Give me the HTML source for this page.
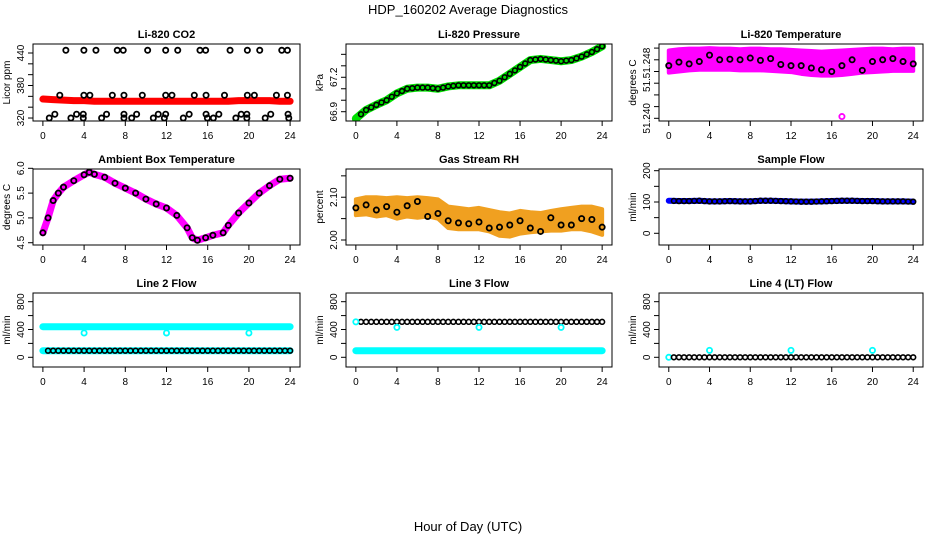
<!DOCTYPE html>
<html><head><meta charset="utf-8"><style>
body{margin:0;background:#fff}
svg{display:block;font-family:"Liberation Sans",sans-serif}
</style></head><body>
<svg id="c" width="936" height="540" viewBox="0 0 936 540" xmlns="http://www.w3.org/2000/svg">
<rect width="936" height="540" fill="#fff"/>
<text x="468" y="14" text-anchor="middle" font-size="13">HDP_160202  Average Diagnostics</text>
<text x="468" y="531" text-anchor="middle" font-size="13">Hour of Day (UTC)</text>
</svg>
<script>
const hours=[0,1,2,3,4,5,6,7,8,9,10,11,12,13,14,15,16,17,18,19,20,21,22,23,24];
// CO2
const co2Red=[355,354,353,352,352,351,351,351,351,351,351,351,351,351,351,351,351,351,351,352,352,352,352,351,351];
const co2TopH=[2.23,3.98,5.15,7.22,7.8,10.17,11.92,13.09,15.25,15.8,18.17,19.85,21.05,23.19,23.74];
const co2MidH=[1.64,3.98,4.56,6.74,7.87,9.65,11.92,12.53,14.7,15.84,17.63,19.85,20.53,22.67,23.74];
const co2LowH=[1.16,3.27,3.92,6.18,7.87,9.1,11.2,11.92,14.2,15.84,17.08,19.25,19.8,22.12,23.8];
const co2BotH=[0.62,2.72,3.92,5.7,7.87,8.62,10.72,11.79,13.63,15.97,16.55,18.73,19.8,21.58,23.87];
// Pressure
const pres=[66.84,66.915,66.96,67.0,67.06,67.1,67.11,67.11,67.1,67.12,67.13,67.13,67.13,67.13,67.17,67.23,67.29,67.35,67.36,67.35,67.34,67.35,67.38,67.42,67.47];
// Li-820 temperature cloud envelope and black points
const tHi=[51.2516,51.2518,51.2519,51.2519,51.2520,51.2519,51.2519,51.2518,51.2519,51.2519,51.2518,51.2518,51.2517,51.2516,51.2515,51.2514,51.2515,51.2516,51.2517,51.2518,51.2519,51.2519,51.2518,51.2519,51.2519];
const tLo=[51.2478,51.2480,51.2482,51.2483,51.2483,51.2483,51.2483,51.2482,51.2482,51.2482,51.2481,51.2480,51.2479,51.2476,51.2474,51.2473,51.2473,51.2474,51.2476,51.2478,51.2479,51.2480,51.2481,51.2481,51.2481];
const tBlk=[51.2490,51.2496,51.2493,51.2497,51.2508,51.2500,51.2501,51.2500,51.2503,51.2499,51.2502,51.2492,51.2490,51.2490,51.2486,51.2483,51.2480,51.2490,51.2500,51.2482,51.2497,51.2500,51.2502,51.2497,51.2493];
// Ambient box temperature
const ambH=[0,0.5,1,1.5,2,3,4,4.5,5,6,7,8,9,10,11,12,13,14,14.5,15,15.8,16.5,17.5,18,19,20,21,22,23,24];
const amb=[4.7,5.0,5.35,5.5,5.62,5.75,5.87,5.92,5.88,5.82,5.7,5.6,5.5,5.38,5.28,5.2,5.05,4.8,4.6,4.55,4.6,4.65,4.7,4.85,5.1,5.3,5.5,5.65,5.78,5.8];
// Gas stream RH
const rhHi=[2.095,2.100,2.100,2.098,2.100,2.098,2.100,2.098,2.095,2.078,2.075,2.072,2.075,2.070,2.065,2.062,2.068,2.065,2.063,2.068,2.072,2.075,2.078,2.078,2.072];
const rhLo=[2.058,2.060,2.055,2.058,2.050,2.055,2.052,2.055,2.050,2.028,2.025,2.025,2.025,2.020,2.010,2.008,2.015,2.018,2.020,2.022,2.022,2.025,2.025,2.020,2.012];
const rhBlk=[2.075,2.082,2.070,2.078,2.065,2.080,2.090,2.055,2.062,2.045,2.040,2.038,2.042,2.028,2.030,2.035,2.045,2.028,2.020,2.052,2.035,2.035,2.050,2.048,2.030];
// Flows
const sampleFlow=[104,103,103,104,102,102,103,102,102,104,104,103,102,101,101,102,103,104,104,103,103,102,102,102,101];
const line2Hi=[440,440,440,440,440,440,440,440,440,440,440,440,440,440,440,440,440,440,440,440,440,440,440,440,440];
const line2Lo=[95,95,95,95,95,95,95,95,95,95,95,95,95,95,95,95,95,95,95,95,95,95,95,95,95];
const line3Hi=[510,510,510,510,510,510,510,510,510,510,510,510,510,510,510,510,510,510,510,510,510,510,510,510,510];
const line3Lo=[95,95,95,95,95,95,95,95,95,95,95,95,95,95,95,95,95,95,95,95,95,95,95,95,95];
const line4=[0,0,0,0,0,0,0,0,0,0,0,0,0,0,0,0,0,0,0,0,0,0,0,0,0];
const dipH=[4,12,20];
const line2Dip=[350,350,350];
const line3Dip=[430,430,430];
const line4Bump=[100,100,100];

const NS="http://www.w3.org/2000/svg";
const svg=document.getElementById('c');
function mk(t,a,p){const e=document.createElementNS(NS,t);for(const k in a)e.setAttribute(k,a[k]);(p||svg).appendChild(e);return e;}
const cols=[[33,300],[346,612],[659,923]];
const rows=[[44,121],[169,245],[293,367]];
function panel(ci,ri,title,ylab,ylim,ticks,labels,name){
  const [L,R]=cols[ci],[T,B]=rows[ri];
  const g=mk('g',{});
  
  
  const x=h=>L+(h+0.96)/25.92*(R-L);
  const y=v=>B-(v-ylim[0])/(ylim[1]-ylim[0])*(B-T);
  const t=mk('text',{x:(L+R)/2,y:T-6,'text-anchor':'middle','font-size':'11','font-weight':'bold'},g);t.textContent=title;
  
  
  const yl=mk('text',{x:0,y:0,'text-anchor':'middle','font-size':'10',transform:`translate(${L-23},${(T+B)/2}) rotate(-90)`},g);yl.textContent=ylab;
  
  
  const ax=mk('g',{stroke:'#000','stroke-width':1},g);
  
  
  mk('line',{x1:x(0),x2:x(24),y1:B,y2:B},ax);
  for(let h=0;h<=24;h+=4){mk('line',{x1:x(h),x2:x(h),y1:B,y2:B+5},ax);
    const lt=mk('text',{x:x(h),y:B+18,'text-anchor':'middle','font-size':'10',stroke:'none'},g);lt.textContent=h;}
  mk('line',{x1:L,x2:L,y1:y(ticks[0]),y2:y(ticks[ticks.length-1])},ax);
  ticks.forEach(v=>mk('line',{x1:L-5,x2:L,y1:y(v),y2:y(v)},ax));
  labels.forEach(([v,s])=>{const lt=mk('text',{x:0,y:0,'text-anchor':'middle','font-size':'10',transform:`translate(${L-9},${y(v)}) rotate(-90)`},g);lt.textContent=s;});
  const clip='cp'+name;
  const cp=mk('clipPath',{id:clip},g);mk('rect',{x:L,y:T,width:R-L,height:B-T},cp);
  const plot=mk('g',{'clip-path':`url(#${clip})`},g);
  
  
  mk('rect',{x:L,y:T,width:R-L,height:B-T,fill:'none',stroke:'#000'},g);
  return {x,y,g:plot};
}
function band(p,xs,ys,color,w,name){
  const e=mk('polyline',{points:xs.map((h,i)=>p.x(h)+','+p.y(ys[i])).join(' '),fill:'none',stroke:color,'stroke-width':w,'stroke-linejoin':'round','stroke-linecap':'round'},p.g);
  
  
}
function area(p,xs,hi,lo,color,name){
  const pts=xs.map((h,i)=>p.x(h)+','+p.y(hi[i])).concat(xs.map((h,i)=>p.x(h)+','+p.y(lo[i])).reverse());
  const e=mk('polygon',{points:pts.join(' '),fill:color,stroke:color,'stroke-width':4,'stroke-linejoin':'round'},p.g);
  
  
}
function pts(p,xs,ys,color,name,r){
  xs.forEach((h,i)=>{const c=mk('circle',{cx:p.x(h),cy:p.y(ys[i]),r:r||2.6,fill:'none',stroke:color,'stroke-width':1.8},p.g);
    
    });
}
function ptsEvery(p,xs,ys,color,name,step){
  for(let h=0.5;h<=24;h+=step){const i=Math.min(Math.floor(h),23),f=h-i;const v=ys[i]*(1-f)+ys[i+1]*f;
    const c=mk('circle',{cx:p.x(h),cy:p.y(v),r:2.4,fill:'none',stroke:color,'stroke-width':1.6},p.g);
    
    }
}
// 1 CO2
let p=panel(0,0,'Li-820 CO2','Licor ppm',[314.5,456.6],[320,340,360,380,400,420,440],[[320,'320'],[380,'380'],[440,'440']],'co2');
band(p,hours,co2Red,'#f00',7,'co2-series');
pts(p,co2TopH,co2TopH.map(()=>445),'#000','co2-point');
pts(p,co2MidH,co2MidH.map(()=>362),'#000','co2-point');
pts(p,co2LowH,co2LowH.map(()=>327),'#000','co2-point');
pts(p,co2BotH,co2BotH.map(()=>320),'#000','co2-point');
// 2 Pressure
p=panel(1,0,'Li-820 Pressure','kPa',[66.819,67.49],[66.9,67.0,67.1,67.2,67.3,67.4],[[66.9,'66.9'],[67.2,'67.2']],'pressure');
band(p,hours,pres,'#00e000',8,'pressure-series');
ptsEvery(p,hours,pres,'#000','pressure-point',0.5);
// 3 Li-820 temperature
p=panel(2,0,'Li-820 Temperature','degrees C',[51.23954,51.2527],[51.240,51.242,51.244,51.246,51.248,51.250,51.252],[[51.240,'51.240'],[51.24569,'51.'],[51.24945,'51.248']],'li820-temp');
area(p,hours,tHi,tLo,'#ff00ff','li820-temp-cloud');
pts(p,hours,tBlk,'#000','li820-temp-point');
pts(p,[17],[51.2403],'#ff00ff','li820-temp-outlier');
// 4 Ambient
p=panel(0,1,'Ambient Box Temperature','degrees C',[4.454,5.986],[4.5,5.0,5.5,6.0],[[4.5,'4.5'],[5.0,'5.0'],[5.5,'5.5'],[6.0,'6.0']],'ambient-temp');
band(p,ambH,amb,'#ff00ff',7,'ambient-temp-series');
pts(p,ambH,amb,'#000','ambient-temp-point');
// 5 RH
p=panel(1,1,'Gas Stream RH','percent',[1.9883,2.166],[2.00,2.05,2.10,2.15],[[2.00,'2.00'],[2.10,'2.10']],'gas-rh');
area(p,hours,rhHi,rhLo,'#f0a020','gas-rh-cloud');
pts(p,hours,rhBlk,'#000','gas-rh-point');
// 6 Sample flow
p=panel(2,1,'Sample Flow','ml/min',[-37.4,205.4],[0,50,100,150,200],[[0,'0'],[100,'100'],[200,'200']],'sample-flow');
band(p,hours,sampleFlow,'#0000ff',6,'sample-flow-series');
ptsEvery(p,hours,sampleFlow,'#000','sample-flow-point',0.5);
// 7 Line 2
const flowT=[0,200,400,600,800],flowL=[[0,'0'],[400,'400'],[800,'800']];
p=panel(0,2,'Line 2 Flow','ml/min',[-139.6,925],flowT,flowL,'line2-flow');
band(p,hours,line2Hi,'#00ffff',7,'line2-flow-high');
band(p,hours,line2Lo,'#00ffff',7,'line2-flow-low');
ptsEvery(p,hours,line2Lo,'#000','line2-flow-point',0.5);
pts(p,dipH,line2Dip,'#00ffff','line2-flow-dip');
// 8 Line 3
p=panel(1,2,'Line 3 Flow','ml/min',[-139.6,925],flowT,flowL,'line3-flow');
band(p,hours,line3Lo,'#00ffff',7,'line3-flow-low');
ptsEvery(p,hours,line3Hi,'#000','line3-flow-point',0.5);
pts(p,[0],[line3Hi[0]],'#00ffff','line3-flow-start');
pts(p,dipH,line3Dip,'#00ffff','line3-flow-dip');
// 9 Line 4
p=panel(2,2,'Line 4 (LT) Flow','ml/min',[-139.6,925],flowT,flowL,'line4-flow');
pts(p,[0],[line4[0]],'#00ffff','line4-flow-start');
ptsEvery(p,hours,line4,'#000','line4-flow-point',0.5);
pts(p,dipH,line4Bump,'#00ffff','line4-flow-bump');
</script>
</body></html>
